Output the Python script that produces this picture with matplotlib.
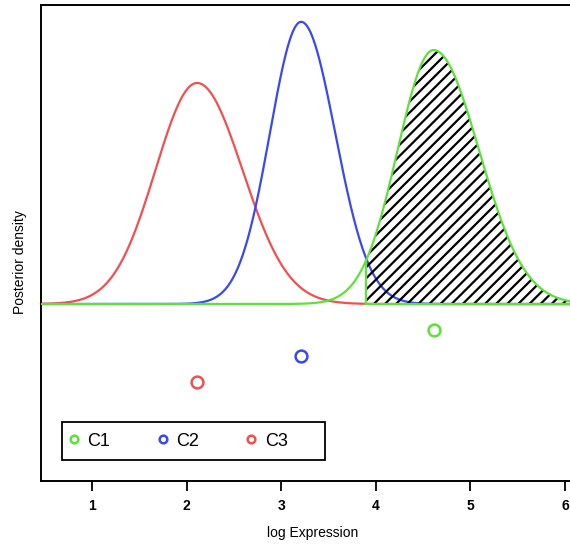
import numpy as np
import matplotlib
matplotlib.use('Agg')
import matplotlib.pyplot as plt
from matplotlib.lines import Line2D
from matplotlib.patches import Rectangle

plt.rcParams['font.family'] = ['Liberation Sans', 'DejaVu Sans']
plt.rcParams['hatch.linewidth'] = 1.6

# ---------- data ----------
labels = ['C1', 'C2', 'C3']
colors = ['#5fe03a', '#3a48f0', '#f05050']
means = [4.61, 3.21, 2.11]          # peak location
sd_left = [0.38, 0.33, 0.44]        # left half spread
sd_right = [0.48, 0.36, 0.48]       # right half spread
peaks = [1.026, 1.14, 0.893]        # peak heights
dot_y = [-0.105, -0.21, -0.315]     # cluster mean markers
cut = 3.90                          # shaded tail start (C1)

x = np.linspace(0.3, 6.3, 1200)


def density(m, sl, sr, h):
    s = np.where(x < m, sl, sr)
    return h * np.exp(-0.5 * ((x - m) / s) ** 2)


fig = plt.figure(figsize=(5.7, 5.45), dpi=100)
ax = fig.add_axes([41 / 570, 64 / 545, 543 / 570, 476 / 545])

curves = [density(m, a, b, h) for m, a, b, h in zip(means, sd_left, sd_right, peaks)]

# red, blue first, green on top
for i in [2, 1, 0]:
    ax.plot(x, curves[i], color=colors[i], lw=1.6, zorder=3 if i == 0 else 2)

# hatched tail under C1
mask = x >= cut
xs = np.concatenate([[cut], x[mask], [x[mask][-1]]])
ys = np.concatenate([[0], curves[0][mask], [0]])
ax.fill(xs, ys, facecolor='none', edgecolor='black', hatch='///', lw=0, zorder=2.5)
ax.plot([cut, cut], [0, np.interp(cut, x, curves[0])], color=colors[0], lw=1.6, zorder=3)
ax.plot([cut, x[-1]], [0, 0], color=colors[0], lw=1.6, zorder=3)

for i in range(3):
    ax.plot(means[i], dot_y[i], 'o', mfc='none', mec=colors[i], mew=1.8, ms=8.5, zorder=4)

ax.set_xlim(0.46, 6.2)
ax.set_ylim(-0.715, 1.208)
ax.set_xticks([1, 2, 3, 4, 5, 6])
ax.set_yticks([])
ax.tick_params(axis='x', length=7, width=1.3, labelsize=10, pad=6)
for t in ax.get_xticklabels():
    t.set_fontweight('bold')
for sp in ax.spines.values():
    sp.set_linewidth(1.4)
ax.set_xlabel('log Expression', fontsize=10, labelpad=9)
ax.set_ylabel('Posterior density', fontsize=10)
ax.yaxis.set_label_coords(-0.026, 0.46)

# legend box
ax.add_patch(Rectangle((0.039, 0.044), 0.484, 0.08, transform=ax.transAxes,
                       facecolor='white', edgecolor='black', lw=1.3, zorder=5))
handles = [Line2D([], [], ls='none', marker='o', mfc='none', mec=c, mew=1.8, ms=5.5)
           for c in colors]
leg = ax.legend(handles, labels, loc='center left', bbox_to_anchor=(0.047, 0.084),
                ncol=3, fontsize=13, frameon=False,
                handlelength=0.8, handletextpad=0.35, borderaxespad=0, borderpad=0,
                columnspacing=2.5)
leg.set_zorder(6)

fig.savefig('out.png', dpi=100)
